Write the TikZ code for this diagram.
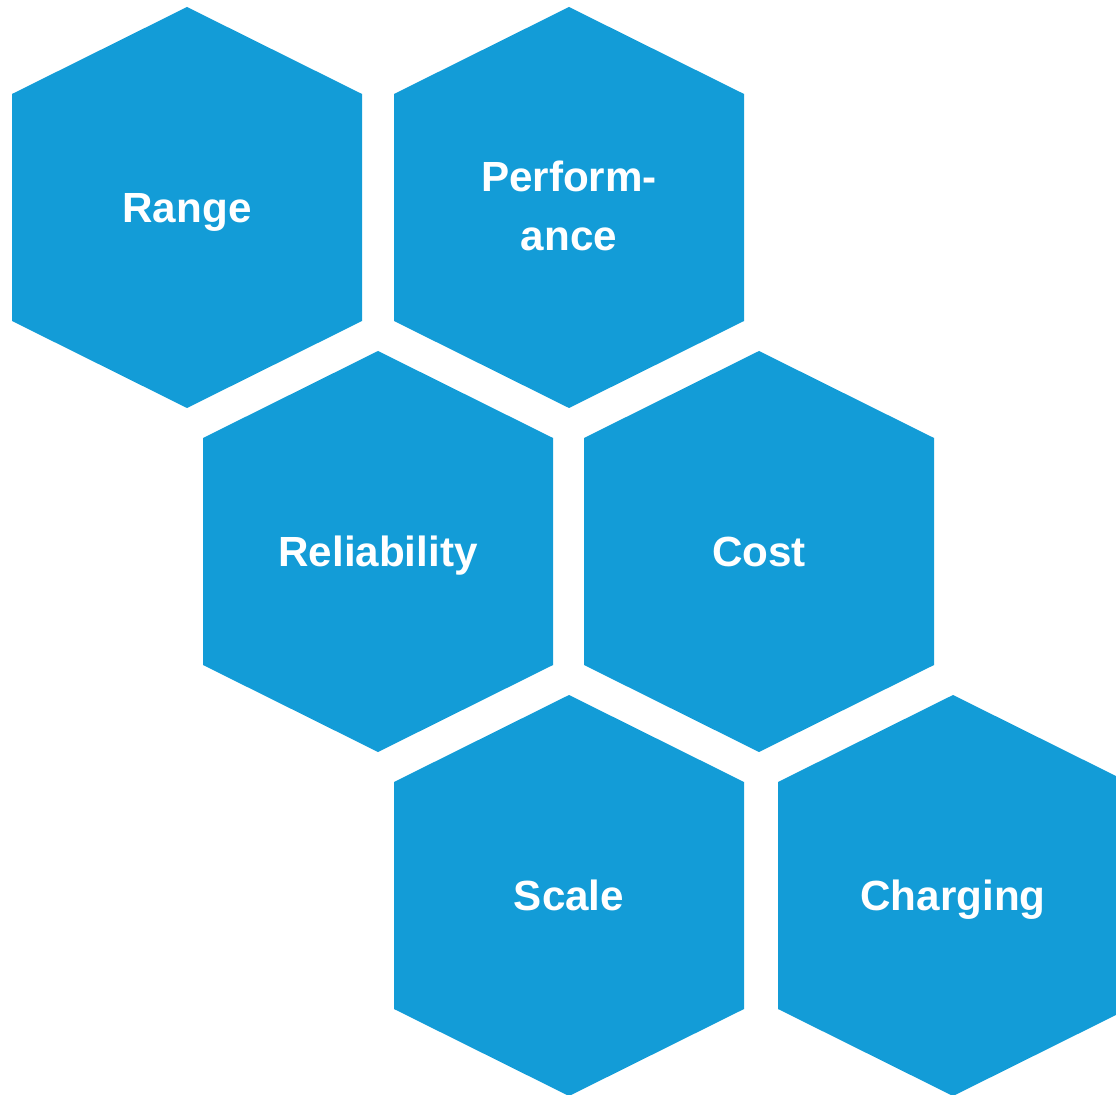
\documentclass[tikz,border=0pt]{standalone}
\usepackage{fontspec}
\setmainfont{Liberation Sans}
\usepackage{xcolor}
\usepackage{tikz}
\definecolor{cellblue}{HTML}{139CD7}

\begin{document}
\begin{tikzpicture}[
        x=0.025cm, y=-0.025cm,
        hexcell/.style={
            insert path={++(0,-200.5) -- ++(175,87) -- ++(0,227)
                -- ++(-175,87) -- ++(-175,-87) -- ++(0,-227) -- cycle}
        },
        celltext/.style={
            align=center,
            text=white,
            inner sep=0pt,
            text height=21.5pt,
            text depth=0pt,
            font=\bfseries\fontsize{30}{42}\selectfont
        }
    ]
        \clip (0,0) rectangle (1116,1095);

        % top row
        \fill[cellblue] (187,207.5) [hexcell];
        \node[celltext] (range) at (187,207.5) {Range};

        \fill[cellblue] (569,207.5) [hexcell];
        \node[celltext] (perf) at (569,235.5) {Perform-\\ance};

        % middle row
        \fill[cellblue] (378,551.5) [hexcell];
        \node[celltext] (reliab) at (378,551.5) {Reliability};

        \fill[cellblue] (759,551.5) [hexcell];
        \node[celltext] (cost) at (759,551.5) {Cost};

        % bottom row
        \fill[cellblue] (569,895.5) [hexcell];
        \node[celltext] (scale) at (569,895.5) {Scale};

        \fill[cellblue] (953,895.5) [hexcell];
        \node[celltext] (charging) at (953,895.5) {Charging};
    \end{tikzpicture}
\end{document}
